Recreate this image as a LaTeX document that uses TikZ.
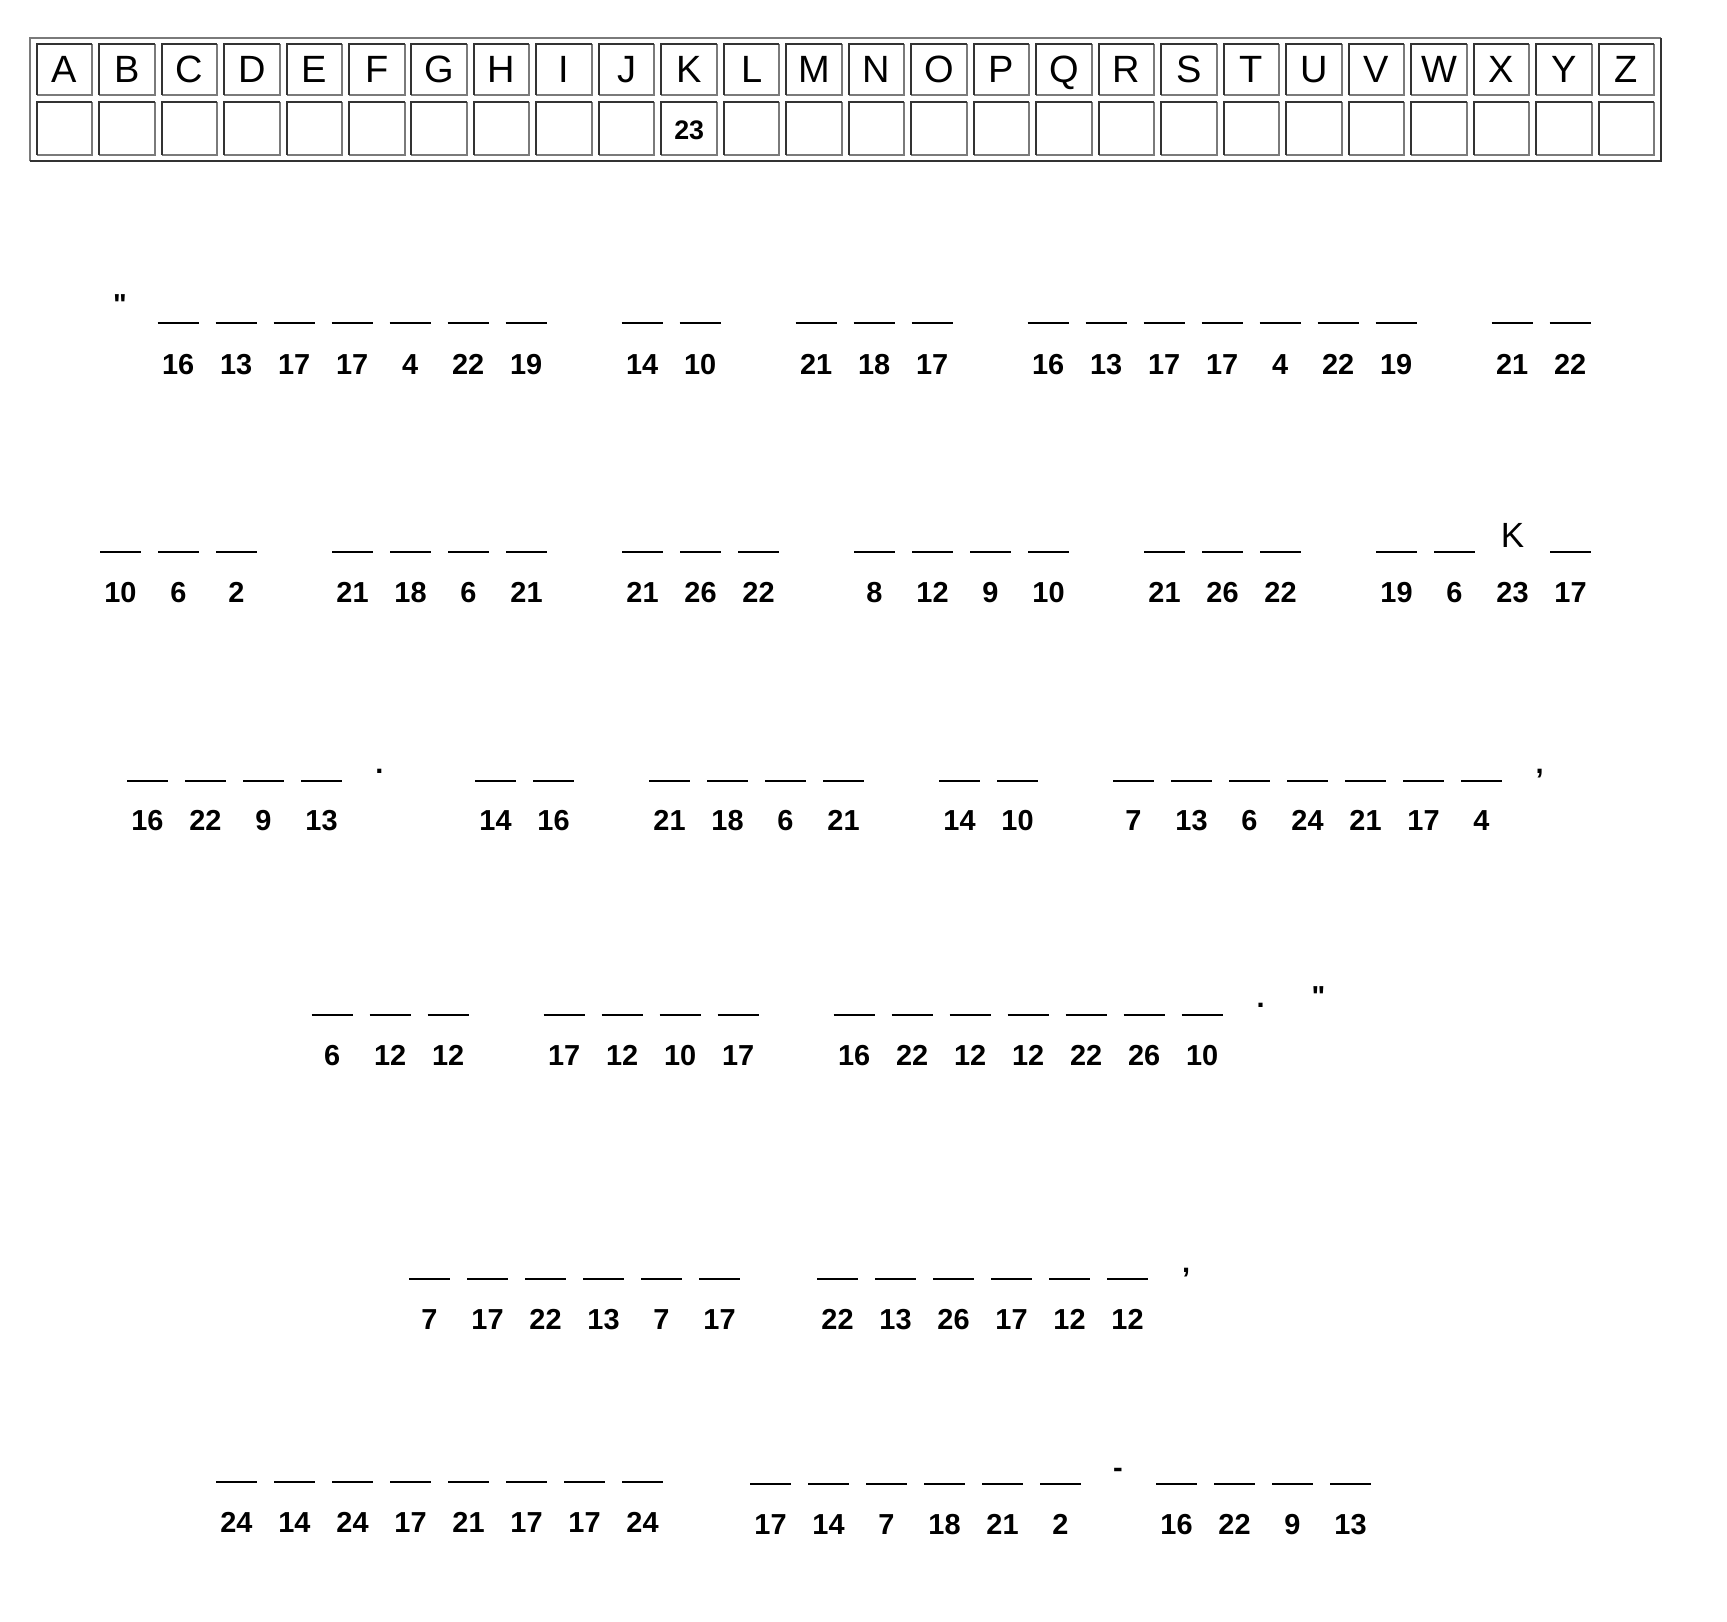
\documentclass[tikz,border=0pt]{standalone}
\usepackage{fontspec}
\setmainfont{Liberation Sans}
\newcommand\cword[5]{%
  \foreach \n [count=\i from 0] in {#5} {%
    \draw[blankline] ({#2+58*\i},#3) -- ++(41,0);
    \node[num] (#1-\i) at ({#2+58*\i+20.5},#4) {\n};
  }%
}
\begin{document}
\begin{tikzpicture}[x=0.5pt,y=-0.5pt,
  blankline/.style={line width=1pt,black},
  num/.style={font=\fontsize{14.45}{16}\selectfont\bfseries,inner sep=0pt,anchor=base},
  punct/.style={num},
  head/.style={font=\fontsize{19}{22}\selectfont,inner sep=0pt,anchor=base},
  klet/.style={font=\fontsize{17.5}{20}\selectfont,inner sep=0pt,anchor=base},
  tnum/.style={font=\fontsize{13.4}{15}\selectfont\bfseries,inner sep=0pt,anchor=base},
  darkedge/.style={line width=1pt,draw=black!80},
  lightedge/.style={line width=1pt,draw=black!52}]
\useasboundingbox (0,0) rectangle (1727,1621);
% ---- outer frame of the key table
\draw[lightedge] (29.7,161.3) -- (29.7,37.7) -- (1660.5,37.7);
\draw[darkedge] (29.7,161.3) -- (1660.5,161.3) -- (1660.5,37.7);
% ---- cells
\foreach \c [count=\i from 0] in {A,B,...,Z} {
  \pgfmathsetmacro\xl{35.6+62.48*\i}
  \draw[lightedge] (\xl+1,95) -- (\xl+56.5,95) -- (\xl+56.5,43.7);
  \draw[darkedge] (\xl+1,95) -- (\xl+1,43.7) -- (\xl+56.5,43.7);
  \draw[lightedge] (\xl+1,154.7) -- (\xl+56.5,154.7) -- (\xl+56.5,102);
  \draw[darkedge] (\xl+1,154.7) -- (\xl+1,102) -- (\xl+56.5,102);
  \node[head] (L-\c) at (\xl+28.75,82.3) {\c};
}
\node[tnum] (V-K) at (689.2,140) {23};
% ---- line 1
\node[punct] (q1) at (120,314) {\textquotedbl};
\cword{a1}{157.6}{323}{374}{16,13,17,17,4,22,19}
\cword{a2}{621.6}{323}{374}{14,10}
\cword{a3}{795.6}{323}{374}{21,18,17}
\cword{a4}{1027.6}{323}{374}{16,13,17,17,4,22,19}
\cword{a5}{1491.6}{323}{374}{21,22}
% ---- line 2
\cword{b1}{100}{552}{602}{10,6,2}
\cword{b2}{332}{552}{602}{21,18,6,21}
\cword{b3}{622}{552}{602}{21,26,22}
\cword{b4}{854}{552}{602}{8,12,9,10}
\cword{b5}{1144}{552}{602}{21,26,22}
\cword{b6}{1376}{552}{602}{19,6}
\node[num] (b6-2) at (1512.5,602) {23};
\node[klet] (kk) at (1512.5,547) {K};
\cword{b7}{1550}{552}{602}{17}
% ---- line 3
\cword{c1}{127}{781}{830}{16,22,9,13}
\node[punct] (p3) at (379.5,773) {.};
\cword{c2}{475}{781}{830}{14,16}
\cword{c3}{649}{781}{830}{21,18,6,21}
\cword{c4}{939}{781}{830}{14,10}
\cword{c5}{1113}{781}{830}{7,13,6,24,21,17,4}
\node[punct] (m3) at (1539.5,773) {,};
% ---- line 4
\cword{d1}{311.6}{1015}{1065}{6,12,12}
\cword{d2}{543.6}{1015}{1065}{17,12,10,17}
\cword{d3}{833.6}{1015}{1065}{16,22,12,12,22,26,10}
\node[punct] (p4) at (1260.5,1007) {.};
\node[punct] (q4) at (1318.5,1006) {\textquotedbl};
% ---- line 5
\cword{e1}{409}{1279}{1329}{7,17,22,13,7,17}
\cword{e2}{817}{1279}{1329}{22,13,26,17,12,12}
\node[punct] (m5) at (1186,1272) {,};
% ---- line 6
\cword{f1}{216}{1482}{1532}{24,14,24,17,21,17,17,24}
\cword{f2}{750}{1484}{1534}{17,14,7,18,21,2}
\node[punct] (h6) at (1118,1477) {-};
\cword{f3}{1156}{1484}{1534}{16,22,9,13}
\end{tikzpicture}
\end{document}
